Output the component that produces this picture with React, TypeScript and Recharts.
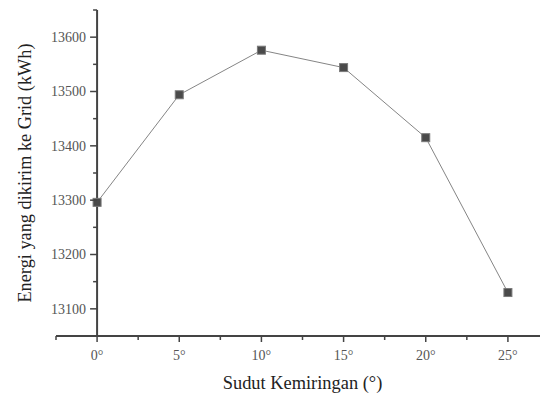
import React from "react";
import { LineChart, Line, XAxis, YAxis, ReferenceLine, Label } from "recharts";

const angles = [0, 5, 10, 15, 20, 25];
const energy = [13296, 13494, 13576, 13544, 13415, 13130];
const xTicks = [-2.5, 0, 2.5, 5, 7.5, 10, 12.5, 15, 17.5, 20, 22.5, 25, 27.5];
const yTicks = [13050, 13100, 13150, 13200, 13250, 13300, 13350, 13400, 13450, 13500, 13550, 13600, 13650];
const X_DOMAIN: [number, number] = [-2.5, 27.5];
const Y_DOMAIN: [number, number] = [13050, 13650];

const data = angles.map((a, i) => ({ angle: a, energy: energy[i] }));

const W = 550;
const H = 394;
const ML = 56;
const MR = 1;
const MT = 10;
const PLOT_B = 336;
const PLOT_W = W - ML - MR;
const AXIS_X = ML + (PLOT_W * (0 - X_DOMAIN[0])) / (X_DOMAIN[1] - X_DOMAIN[0]);
const FONT = "'Liberation Serif', 'Times New Roman', Times, serif";
const AXIS_COLOR = "#444";

const YTick = (props: any) => {
  const { y, payload } = props;
  const v = payload.value as number;
  const major = v % 100 === 0;
  return (
    <g>
      <line x1={AXIS_X - (major ? 7 : 4)} x2={AXIS_X} y1={y} y2={y} stroke={AXIS_COLOR} strokeWidth={1.5} />
      {major && (
        <text x={AXIS_X - 11} y={y} dy="0.35em" textAnchor="end" style={{ fontFamily: FONT, fontSize: 14, fill: "#555" }}>
          {v}
        </text>
      )}
    </g>
  );
};

const XTick = (props: any) => {
  const { x, payload } = props;
  const v = payload.value as number;
  const major = v % 5 === 0;
  return (
    <g>
      <line x1={x} x2={x} y1={PLOT_B} y2={PLOT_B + (major ? 6 : 4)} stroke={AXIS_COLOR} strokeWidth={1.5} />
      {major && (
        <text x={x} y={PLOT_B + 19} dy="0.35em" textAnchor="middle" style={{ fontFamily: FONT, fontSize: 14, fill: "#555" }}>
          {`${v}°`}
        </text>
      )}
    </g>
  );
};

const SquareDot = (props: any) => {
  const { cx, cy, index } = props;
  if (cx == null || cy == null) return null;
  return <rect key={index} x={cx - 4} y={cy - 4} width={8} height={8} fill="#4a4a4a" stroke="#7a7a7a" strokeWidth={1} />;
};

export default function App() {
  return (
    <div style={{ position: "absolute", left: 0, top: 0, width: 540, height: 394, overflow: "hidden", background: "#fff", fontFamily: FONT }}>
      <LineChart width={W} height={H} data={data} margin={{ top: MT, right: MR, left: 0, bottom: 0 }} style={{ fontFamily: FONT }}>
        <XAxis
          dataKey="angle"
          type="number"
          domain={X_DOMAIN}
          ticks={xTicks}
          interval={0}
          height={H - PLOT_B}
          axisLine={{ stroke: AXIS_COLOR, strokeWidth: 2 }}
          tickLine={false}
          tick={<XTick />}
        >
          <Label
            value="Sudut Kemiringan (°)"
            position="insideBottom"
            offset={5}
            style={{ fontFamily: FONT, fontSize: 18.4, fill: "#222" }}
          />
        </XAxis>
        <YAxis
          type="number"
          domain={Y_DOMAIN}
          ticks={yTicks}
          interval={0}
          width={ML}
          axisLine={false}
          tickLine={false}
          tick={<YTick />}
        >
          <Label
            value="Energi yang dikirim ke Grid (kWh)"
            angle={-90}
            position="insideLeft"
            offset={20}
            dx={5}
            style={{ textAnchor: "middle", fontFamily: FONT, fontSize: 18.3, fill: "#222" }}
          />
        </YAxis>
        <ReferenceLine x={0} stroke={AXIS_COLOR} strokeWidth={2} />
        <Line
          dataKey="energy"
          stroke="#858585"
          strokeWidth={1}
          dot={<SquareDot />}
          activeDot={false}
          isAnimationActive={false}
        />
      </LineChart>
    </div>
  );
}
